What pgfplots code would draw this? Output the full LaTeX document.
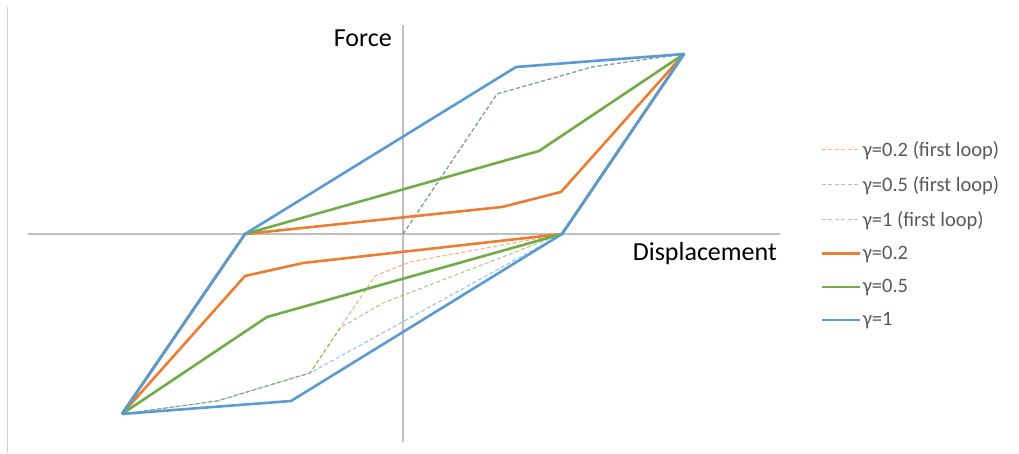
\documentclass[border=0pt]{standalone}
\usepackage{fontspec}
\setmainfont{Carlito}
\usepackage{pgfplots}
\pgfplotsset{compat=1.18}
\definecolor{xlblue}{HTML}{5B9BD5}
\definecolor{xlorange}{HTML}{ED7D31}
\definecolor{xlgreen}{HTML}{70AD47}
\definecolor{axgray}{HTML}{BFBFBF}
\definecolor{bordergray}{HTML}{D0D0D0}
\definecolor{txtgray}{HTML}{595959}

\begin{document}
\begin{tikzpicture}
\begin{axis}[
  x=1pt, y=1pt,
  xmin=-375, xmax=377, ymin=-208, ymax=209,
  axis lines=middle,
  axis line style={axgray, line width=1.5pt, -},
  xtick=\empty, ytick=\empty,
  clip=false,
  legend style={at={(axis cs:417,95)}, anchor=north west, draw=none, fill=none,
    font=\fontsize{20.5}{24}\selectfont, text=txtgray, row sep=14.5pt, inner sep=0pt},
  legend cell align=left,
  legend image code/.code={\draw[#1] (0pt,0pt) -- (38pt,0pt);},
  first/.style={line width=1.1pt, dash pattern=on 4pt off 2.5pt, opacity=0.6},
  loop/.style={line width=2.6pt, line join=round},
]
% first loops (dashed)
\addplot[first, xlorange, legend image post style={opacity=1, xlorange!55}] coordinates {
  (0,0) (94,140) (189,167) (281,180) (159,0) (7,-28) (-28,-42)
  (-93,-139) (-186,-167) (-281,-180)};
\addplot[first, xlgreen, legend image post style={opacity=1, xlgreen!55}] coordinates {
  (0,0) (94,140) (189,167) (281,180) (159,0) (-20,-69) (-63,-94)
  (-93,-139) (-186,-167) (-281,-180)};
\addplot[first, xlblue, legend image post style={opacity=1, xlblue!55}] coordinates {
  (0,0) (94,140) (189,167) (281,180) (159,0)
  (-93,-139) (-186,-167) (-281,-180)};
% steady loops
\addplot[loop, xlorange] coordinates {
  (-281,-180) (-158,-42) (-100,-29) (159,0) (281,180)
  (158,42) (99,27) (-158,0) (-281,-180)};
\addplot[loop, xlgreen] coordinates {
  (-281,-180) (-136,-83) (159,0) (281,180)
  (136,83) (-158,0) (-281,-180)};
\addplot[loop, xlblue] coordinates {
  (-281,-180) (-112,-167) (159,0) (281,180)
  (113,167) (-158,0) (-281,-180)};
\legend{γ=0.2 (first loop), γ=0.5 (first loop), γ=1 (first loop),
  γ=0.2, γ=0.5, γ=1}

\node[anchor=base east, font=\fontsize{26}{30}\selectfont, inner sep=0pt] at (axis cs:-11,187) {Force};
\node[anchor=base east, font=\fontsize{26}{30}\selectfont, inner sep=0pt] at (axis cs:374,-27) {Displacement};
\draw[bordergray, line width=1pt] (axis cs:-395,227) -- (axis cs:-395,-219);
\coordinate (bl) at (axis cs:-403,-220);
\coordinate (tr) at (axis cs:616,234);
\end{axis}
\pgfresetboundingbox
\useasboundingbox (bl) rectangle (tr);
\end{tikzpicture}
\end{document}
